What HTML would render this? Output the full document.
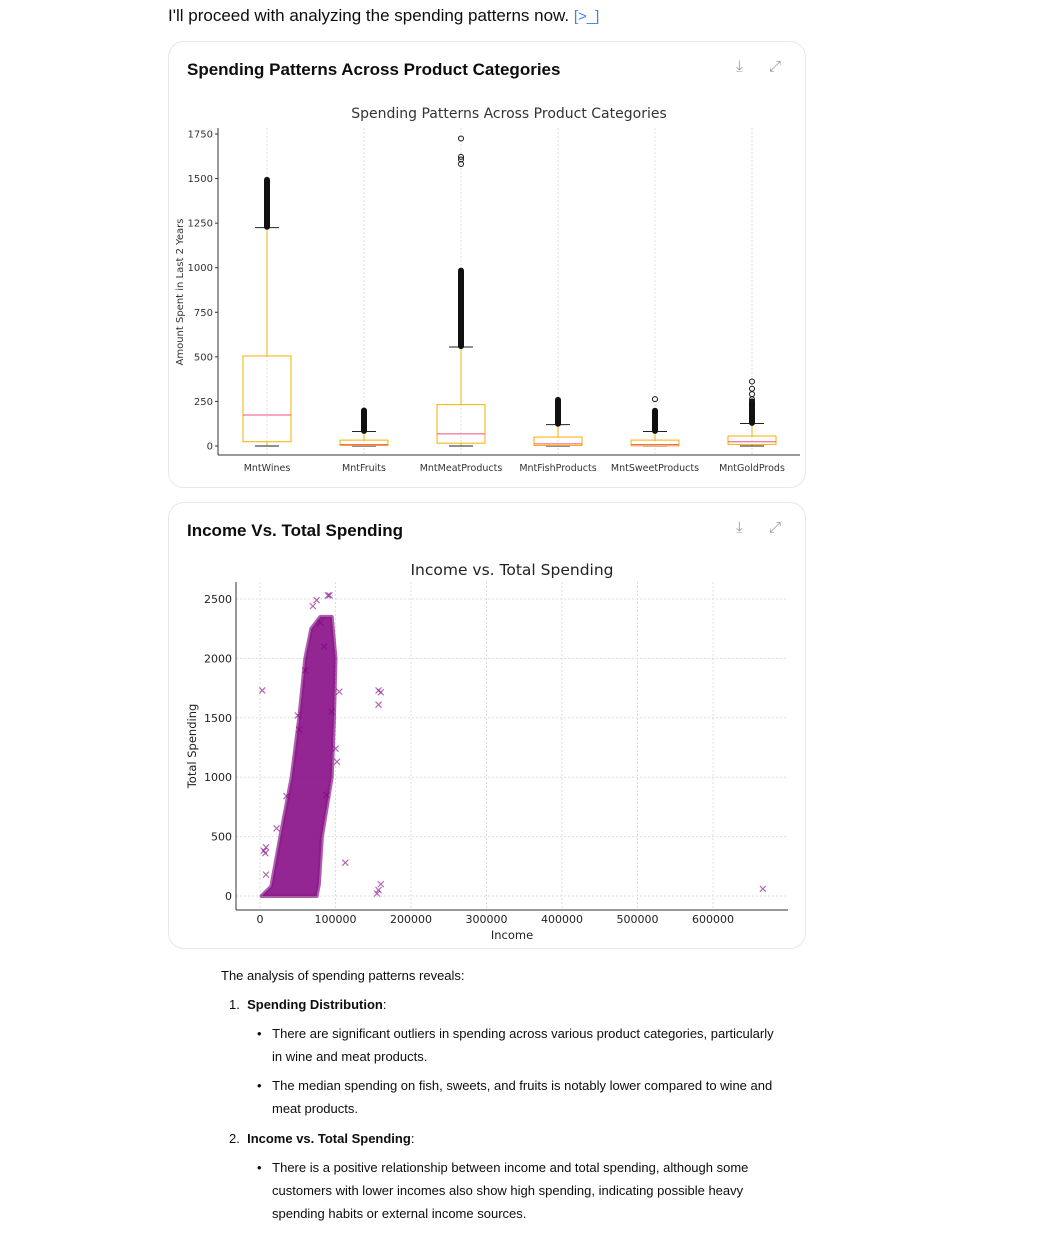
<!DOCTYPE html>
<html><head><meta charset="utf-8">
<style>
body{margin:0;width:1052px;height:1244px;background:#fff;font-family:"Liberation Sans",sans-serif;color:#0d0d0d;position:relative;overflow:hidden}
.abs{position:absolute}
.card{position:absolute;left:168px;width:638px;border:1px solid #e8e8e8;border-radius:16px;box-sizing:border-box}
.ctitle{position:absolute;left:18px;font-size:17px;font-weight:bold}
.icon{position:absolute;color:#9a9a9a;font-size:15px}
.txt{position:absolute;font-size:13px;line-height:23px}
</style></head><body>
<div class="abs" style="left:168px;top:6px;font-size:17px">I'll proceed with analyzing the spending patterns now. <span style="color:#3b82f6;font-size:15px">[&gt;_]</span></div>

<div class="card" style="top:41px;height:447px">
  <div class="ctitle" style="top:18px">Spending Patterns Across Product Categories</div>
  <div class="icon" style="left:567px;top:16px">⤓</div>
  <div class="icon" style="left:600px;top:16px">⤢</div>
</div>
<div class="card" style="top:502px;height:447px">
  <div class="ctitle" style="top:18px">Income Vs. Total Spending</div>
  <div class="icon" style="left:567px;top:16px">⤓</div>
  <div class="icon" style="left:600px;top:16px">⤢</div>
</div>

<svg id="box" class="abs" style="left:0;top:0" width="1052" height="500"></svg>
<svg id="sc" class="abs" style="left:0;top:500px" width="1052" height="460"></svg>

<div class="txt" style="left:221px;top:964px">The analysis of spending patterns reveals:</div>
<div class="txt" style="left:229px;top:993px">1.&nbsp; <b>Spending Distribution</b>:</div>
<div class="txt" style="left:257px;top:1022px;width:530px">•&nbsp;&nbsp; There are significant outliers in spending across various product categories, particularly<br><span style="padding-left:15px">in wine and meat products.</span></div>
<div class="txt" style="left:257px;top:1074px;width:530px">•&nbsp;&nbsp; The median spending on fish, sweets, and fruits is notably lower compared to wine and<br><span style="padding-left:15px">meat products.</span></div>
<div class="txt" style="left:229px;top:1127px">2.&nbsp; <b>Income vs. Total Spending</b>:</div>
<div class="txt" style="left:257px;top:1156px;width:530px">•&nbsp;&nbsp; There is a positive relationship between income and total spending, although some<br><span style="padding-left:15px">customers with lower incomes also show high spending, indicating possible heavy</span><br><span style="padding-left:15px">spending habits or external income sources.</span></div>

<script>
// ---- Boxplot data ----
const categories=["MntWines","MntFruits","MntMeatProducts","MntFishProducts","MntSweetProducts","MntGoldProds"];
const q1=[24,3,16,3,1,9];
const medians=[174,8,68,12,8,24];
const q3=[505,33,232,50,33,56];
const whiskLo=[0,0,0,0,0,0];
const whiskHi=[1225,81,555,120,81,126];
const outlierLo=[1230,85,560,125,85,130];
const outlierHi=[1493,199,984,259,198,250];
const extraOutliers=[[],[],[1582,1607,1622,1725],[],[263],[262,291,321,362]];
const yTicks=[0,250,500,750,1000,1250,1500,1750];

const NS="http://www.w3.org/2000/svg";
function mk(svg,tag,attrs,text){const e=document.createElementNS(NS,tag);for(const k in attrs)e.setAttribute(k,attrs[k]);if(text!==undefined)e.textContent=text;svg.appendChild(e);return e;}
const box=document.getElementById('box');
const bx=i=>267+i*97;
const by=v=>446-v*312/1750;
mk(box,'text',{x:509,y:118,'text-anchor':'middle','font-size':14,fill:'#333','font-family':'DejaVu Sans, sans-serif'},'Spending Patterns Across Product Categories');
categories.forEach((c,i)=>{
  const g=mk(box,'line',{x1:bx(i),x2:bx(i),y1:128,y2:455,stroke:'#ddd','stroke-dasharray':'2,2'});
  
});
mk(box,'line',{x1:218,x2:218,y1:128,y2:455,stroke:'#333'});
mk(box,'line',{x1:218,x2:800,y1:455,y2:455,stroke:'#333'});
yTicks.forEach(t=>{
  mk(box,'line',{x1:215,x2:218,y1:by(t),y2:by(t),stroke:'#333'});
  const l=mk(box,'text',{x:213,y:by(t)+3.5,'text-anchor':'end','font-size':10,fill:'#333','font-family':'DejaVu Sans, sans-serif'},t);
  
});
const yt=mk(box,'text',{transform:'translate(183,292) rotate(-90)','text-anchor':'middle','font-size':10,fill:'#333','font-family':'DejaVu Sans, sans-serif'},'Amount Spent in Last 2 Years');

categories.forEach((c,i)=>{
  const x=bx(i),w=24;
  const l=mk(box,'text',{x:x,y:471,'text-anchor':'middle','font-size':9.5,fill:'#333','font-family':'DejaVu Sans, sans-serif'},c);
  
  mk(box,'line',{x1:x,x2:x,y1:by(whiskLo[i]),y2:by(q1[i]),stroke:'#f5b000'});
  mk(box,'line',{x1:x,x2:x,y1:by(q3[i]),y2:by(whiskHi[i]),stroke:'#f5b000'});
  mk(box,'line',{x1:x-12,x2:x+12,y1:by(whiskLo[i]),y2:by(whiskLo[i]),stroke:'#222'});
  mk(box,'line',{x1:x-12,x2:x+12,y1:by(whiskHi[i]),y2:by(whiskHi[i]),stroke:'#222'});
  const r=mk(box,'rect',{x:x-w,y:by(q3[i]),width:2*w,height:Math.max(1,by(q1[i])-by(q3[i])),fill:'none',stroke:'#f5b000'});
  
  mk(box,'line',{x1:x-w,x2:x+w,y1:by(medians[i]),y2:by(medians[i]),stroke:'#f0507a'});
  const o=mk(box,'rect',{x:x-3,y:by(outlierHi[i])-3,width:6,height:by(outlierLo[i])-by(outlierHi[i])+6,rx:3,fill:'#111'});
  
  extraOutliers[i].forEach(v=>{
    const p=mk(box,'circle',{cx:x,cy:by(v),r:2.5,fill:'none',stroke:'#111'});
    
  });
});

// ---- Scatter data ----
const clusterIncome=[2000,15000,27000,42000,52000,60000,68000,80000,95000,100000,98000,95000,82000,78000,75000];
const clusterSpend=[0,80,500,1000,1500,2000,2250,2350,2350,2000,1500,1000,500,100,0];
const ptIncome=[3000,5000,7000,8000,157000,160000,157000,113000,160000,155000,157000,666000,70000,75000,90000,92000,105000,100000,102000,88000,35000,50000,52000,22000,8000,95000,60000,80000,85000];
const ptSpend=[1730,380,360,410,1730,1715,1610,280,100,20,50,60,2440,2490,2530,2530,1720,1240,1130,850,840,1520,1400,570,180,1550,1900,2300,2100];
const xTicks=[0,100000,200000,300000,400000,500000,600000];
const sTicks=[0,500,1000,1500,2000,2500];
const sc=document.getElementById('sc');
const sx=v=>260+v*453/600000;
const sy=v=>396-v*297/2500;
mk(sc,'text',{x:512,y:75,'text-anchor':'middle','font-size':15.5,fill:'#222','font-family':'DejaVu Sans, sans-serif'},'Income vs. Total Spending');
xTicks.forEach(t=>{
  mk(sc,'line',{x1:sx(t),x2:sx(t),y1:82,y2:410,stroke:'#ddd','stroke-dasharray':'2,2'});
  const l=mk(sc,'text',{x:sx(t),y:423,'text-anchor':'middle','font-size':11,fill:'#222','font-family':'DejaVu Sans, sans-serif'},t);
  
});
sTicks.forEach(t=>{
  mk(sc,'line',{x1:236,x2:788,y1:sy(t),y2:sy(t),stroke:'#ddd','stroke-dasharray':'2,2'});
  const l=mk(sc,'text',{x:232,y:sy(t)+4,'text-anchor':'end','font-size':11,fill:'#222','font-family':'DejaVu Sans, sans-serif'},t);
  
});
mk(sc,'line',{x1:236,x2:236,y1:82,y2:410,stroke:'#333'});
mk(sc,'line',{x1:236,x2:788,y1:410,y2:410,stroke:'#333'});
const xl=mk(sc,'text',{x:512,y:439,'text-anchor':'middle','font-size':11.5,fill:'#222','font-family':'DejaVu Sans, sans-serif'},'Income');

const yl=mk(sc,'text',{transform:'translate(196,246) rotate(-90)','text-anchor':'middle','font-size':11.5,fill:'#222','font-family':'DejaVu Sans, sans-serif'},'Total Spending');

const poly=clusterIncome.map((v,i)=>sx(v)+','+sy(clusterSpend[i])).join(' ');
const cl=mk(sc,'polygon',{points:poly,fill:'#800080','fill-opacity':0.85,stroke:'#8a1a8a','stroke-opacity':0.7,'stroke-width':4,'stroke-linejoin':'round'});

ptIncome.forEach((v,i)=>{
  const x=sx(v),y=sy(ptSpend[i]);
  const p=mk(sc,'path',{d:`M${x-3},${y-3}L${x+3},${y+3}M${x-3},${y+3}L${x+3},${y-3}`,stroke:'#800080','stroke-opacity':0.6,'stroke-width':1.2});
  
});
</script>
</body></html>
